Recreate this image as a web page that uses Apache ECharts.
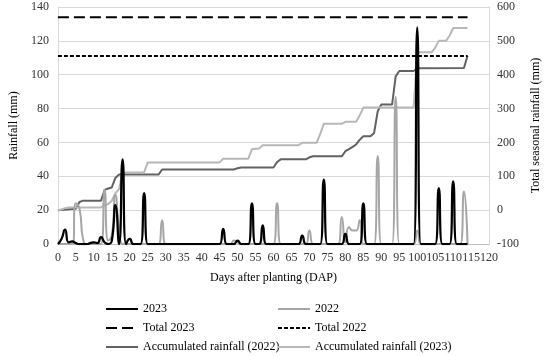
<!DOCTYPE html>
<html>
<head>
<meta charset="utf-8">
<script src="https://cdn.jsdelivr.net/npm/echarts@6/dist/echarts.min.js"></script>
<style>
  html, body { margin: 0; padding: 0; background: #fff; }
  #chart { width: 550px; height: 356px; }
</style>
</head>
<body>
<div id="chart"></div>
<script>
// ---- Data ----
// Daily rainfall (mm), days 0..114 (index = day after planting)
const rain2023 = [
  0, 3, 8.5, 1, 1.5, 0.5, 0, 0, 0, 0.5,
  1, 0.5, 4, 1, 0, 2, 23, 0, 50, 0,
  3, 0, 0, 0, 30, 0, 0, 0, 0, 0,
  0, 0, 0, 0, 0, 0, 0, 0, 0, 0,
  0, 0, 0, 0, 0, 0, 9, 0, 0, 0,
  2, 0, 0, 0, 24, 0, 0, 11, 0, 0,
  0, 0, 0, 0, 0, 0, 0, 0, 5, 0,
  0, 0, 0, 0, 38, 0, 0, 0, 0, 0,
  6, 0, 0, 0, 0, 24, 0, 0, 0, 0,
  0, 0, 0, 0, 0, 0, 0, 0, 0, 0,
  128, 0, 0, 0, 0, 0, 33, 0, 0, 0,
  37, 0, 0, 0, 0
];
const rain2022 = [
  0, 0, 0, 0, 0, 24, 21, 3, 0, 0,
  0, 0, 0, 32, 2, 5, 29, 10, 0, 0,
  0, 0, 0, 0, 0, 0, 0, 0, 0, 14,
  0, 0, 0, 0, 0, 0, 0, 0, 0, 0,
  0, 0, 0, 0, 0, 0, 0, 0, 0, 2,
  1, 0, 0, 0, 0, 0, 0, 0, 0, 0,
  0, 24, 0, 0, 0, 0, 0, 0, 0, 0,
  8, 0, 0, 0, 0, 0, 0, 0, 0, 16,
  1, 10, 8, 8, 14, 0, 0, 0, 0, 52,
  0, 0, 0, 0, 87, 0, 0, 0, 0, 0,
  8, 0, 0, 0, 0, 0, 0, 0, 0, 0,
  0, 0, 0, 31, 0
];

// Season totals (mm, right axis), drawn across the season
const totalDays = [0, 114];
const total2023 = 570;
const total2022 = 455;

// Accumulated rainfall (mm, right axis) at the days where it changes
const accDays2022 = [0, 5, 6, 7, 12, 13, 14, 15, 16, 17, 28, 29, 49, 50, 51, 60, 61, 62, 69, 70, 71, 79, 80, 81, 82, 83, 84, 85, 87, 88, 89, 90, 93, 94, 95, 99, 100, 113, 114];
const acc2022 =    [0, 4, 24, 28, 28, 60, 64, 67, 95, 105, 105, 120, 120, 124, 126, 126, 142, 150, 150, 156, 159, 159, 174, 180, 187, 194, 208, 218, 218, 228, 292, 312, 312, 395, 411, 411, 419, 420, 456];

const accDays2023 = [0, 1, 2, 3, 12, 13, 14, 15, 16, 17, 18, 24, 25, 45, 46, 53, 54, 55, 56, 57, 67, 68, 72, 73, 74, 79, 80, 83, 84, 85, 99, 100, 104, 105, 106, 108, 109, 110, 114];
const acc2023 =    [0, 2, 6, 8, 8, 14, 18, 28, 50, 62, 111, 112, 141, 141, 152, 152, 180, 181, 182, 192, 192, 199, 199, 225, 255, 255, 261, 261, 280, 303, 303, 466, 466, 480, 500, 500, 515, 538, 538];

// Axis ranges
const xMin = 0, xMax = 120, xStep = 5;
const yLeftMin = 0, yLeftMax = 140, yLeftStep = 20;
const yRightMin = -100, yRightMax = 600, yRightStep = 100;

// ---- Build series data ----
const daily = arr => arr.map((v, i) => [i, v]);
const pairs = (xs, ys) => xs.map((x, i) => [x, ys[i]]);
const flat = (xs, v) => xs.map(x => [x, v]);

const FONT = 'Liberation Serif';
const chart = echarts.init(document.getElementById('chart'), null, { renderer: 'canvas' });

const legendBase = {
  orient: 'vertical', top: 303, itemGap: 7, padding: 0,
  itemWidth: 32, itemHeight: 12,
  itemStyle: { opacity: 0, borderWidth: 0 },
  textStyle: { fontFamily: FONT, fontSize: 12, color: '#000' }
};

const option = {
  animation: false,
  backgroundColor: '#ffffff',
  textStyle: { fontFamily: FONT },
  grid: { left: 46, right: 55, top: 7, bottom: 112, containLabel: false },
  legend: [
    Object.assign({}, legendBase, { left: 105, data: ['2023', 'Total 2023', 'Accumulated rainfall (2022)'] }),
    Object.assign({}, legendBase, { left: 277, data: ['2022', 'Total 2022', 'Accumulated rainfall (2023)'] })
  ],
  xAxis: {
    type: 'value', min: xMin, max: xMax, interval: xStep,
    name: 'Days after planting (DAP)', nameLocation: 'middle', nameGap: 28,
    nameTextStyle: { fontFamily: FONT, fontSize: 12, color: '#000' },
    axisLine: { show: true, lineStyle: { color: '#bfbfbf', width: 1 } },
    axisTick: { show: false },
    splitLine: { show: false },
    axisLabel: { margin: 8, fontFamily: FONT, fontSize: 12, color: '#333' }
  },
  yAxis: [
    {
      type: 'value', min: yLeftMin, max: yLeftMax, interval: yLeftStep,
      name: 'Rainfall (mm)', nameLocation: 'middle', nameGap: 34, nameRotate: 90,
      nameTextStyle: { fontFamily: FONT, fontSize: 12, color: '#000' },
      axisLine: { show: true, lineStyle: { color: '#d9d9d9' } },
      axisTick: { show: false },
      splitLine: { show: true, lineStyle: { color: '#d9d9d9', width: 1 } },
      axisLabel: { margin: 9, fontFamily: FONT, fontSize: 12, color: '#333' }
    },
    {
      type: 'value', position: 'right', min: yRightMin, max: yRightMax, interval: yRightStep,
      name: 'Total seasonal rainfall (mm)', nameLocation: 'middle', nameGap: 40, nameRotate: 90,
      nameTextStyle: { fontFamily: FONT, fontSize: 12, color: '#000' },
      axisLine: { show: true, lineStyle: { color: '#d9d9d9' } },
      axisTick: { show: false },
      splitLine: { show: false },
      axisLabel: { margin: 8, fontFamily: FONT, fontSize: 12, color: '#333' }
    }
  ],
  series: [
    {
      name: '2023', type: 'line', yAxisIndex: 0, data: daily(rain2023),
      smooth: 0.6, symbol: 'none', z: 6,
      lineStyle: { color: '#000000', width: 2.25 }, itemStyle: { color: '#000000' }
    },
    {
      name: '2022', type: 'line', yAxisIndex: 0, data: daily(rain2022),
      smooth: 0.6, symbol: 'none', z: 5,
      lineStyle: { color: '#a6a6a6', width: 2 }, itemStyle: { color: '#a6a6a6' }
    },
    {
      name: 'Total 2023', type: 'line', yAxisIndex: 1, data: flat(totalDays, total2023),
      symbol: 'none', z: 4,
      lineStyle: { color: '#000000', width: 2, type: [11, 5] }, itemStyle: { color: '#000000' }
    },
    {
      name: 'Total 2022', type: 'line', yAxisIndex: 1, data: flat(totalDays, total2022),
      symbol: 'none', z: 4,
      lineStyle: { color: '#000000', width: 2, type: [4, 2] }, itemStyle: { color: '#000000' }
    },
    {
      name: 'Accumulated rainfall (2022)', type: 'line', yAxisIndex: 1, data: pairs(accDays2022, acc2022),
      symbol: 'none', z: 3,
      lineStyle: { color: '#626262', width: 2 }, itemStyle: { color: '#626262' }
    },
    {
      name: 'Accumulated rainfall (2023)', type: 'line', yAxisIndex: 1, data: pairs(accDays2023, acc2023),
      symbol: 'none', z: 3,
      lineStyle: { color: '#b8b8b8', width: 2 }, itemStyle: { color: '#b8b8b8' }
    }
  ]
};
chart.setOption(option);
</script>
</body>
</html>
